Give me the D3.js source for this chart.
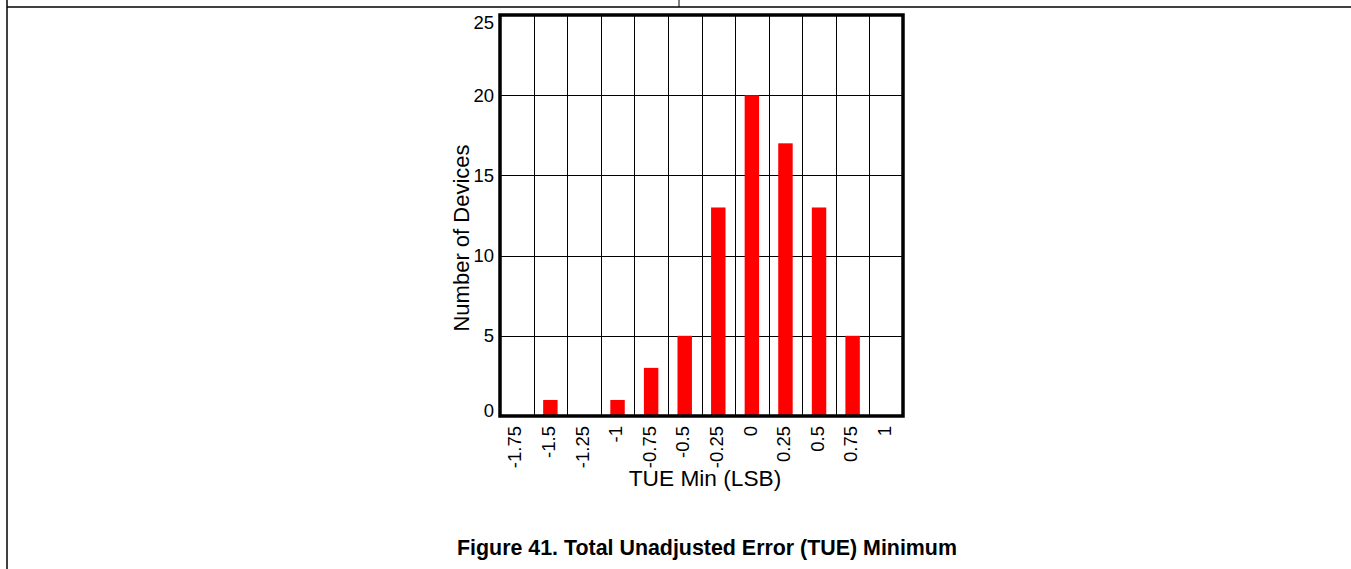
<!DOCTYPE html>
<html>
<head>
<meta charset="utf-8">
<script src="https://cdn.jsdelivr.net/npm/d3@7"></script>
<style>
  body { margin: 0; background: #fff; }
  svg { display: block; font-family: Arial, "Liberation Sans", sans-serif; }
</style>
</head>
<body>
<div id="chart"></div>
<script>
// histogram bins (LSB) and device counts
const bins = ["-1.75", "-1.5", "-1.25", "-1", "-0.75", "-0.5", "-0.25", "0", "0.25", "0.5", "0.75", "1"];
const counts = [0, 1, 0, 1, 3, 5, 13, 20, 17, 13, 5, 0];
const yTicks = [0, 5, 10, 15, 20, 25];

const width = 1351, height = 569;
const plot = {left: 500, right: 903, top: 15, bottom: 416};

const svg = d3.select("#chart").append("svg")
  .attr("width", width)
  .attr("height", height);

// page frame lines
svg.append("line").attr("x1", 7).attr("x2", width).attr("y1", 7).attr("y2", 7)
  .attr("stroke", "#000").attr("stroke-width", 1.5);
svg.append("line").attr("x1", 7).attr("x2", 7).attr("y1", 0).attr("y2", height)
  .attr("stroke", "#000").attr("stroke-width", 1.5);
svg.append("line").attr("x1", 679).attr("x2", 679).attr("y1", 0).attr("y2", 7)
  .attr("stroke", "#000").attr("stroke-width", 1);

const x = d3.scaleBand()
  .domain(bins)
  .range([plot.left, plot.right])
  .paddingInner(0)
  .paddingOuter(0);

const y = d3.scaleLinear()
  .domain([0, 25])
  .range([plot.bottom, plot.top]);

// grid
const grid = svg.append("g").attr("stroke", "#000").attr("stroke-width", 1);
grid.selectAll("line.v")
  .data(bins.slice(1))
  .join("line")
  .attr("class", "v")
  .attr("x1", d => Math.round(x(d)) + 0.5)
  .attr("x2", d => Math.round(x(d)) + 0.5)
  .attr("y1", plot.top)
  .attr("y2", plot.bottom);
grid.selectAll("line.h")
  .data(yTicks.slice(1, -1))
  .join("line")
  .attr("class", "h")
  .attr("x1", plot.left)
  .attr("x2", plot.right)
  .attr("y1", d => Math.round(y(d)) + 0.5)
  .attr("y2", d => Math.round(y(d)) + 0.5);

// bars
const barW = x.bandwidth() * 0.43;
svg.append("g").selectAll("rect")
  .data(bins.map((b, i) => ({bin: b, v: counts[i]})))
  .join("rect")
  .attr("x", d => x(d.bin) + x.bandwidth() / 2 - barW / 2)
  .attr("y", d => y(d.v))
  .attr("width", barW)
  .attr("height", d => y(0) - y(d.v))
  .attr("fill", "#ff0000");

// frame
svg.append("rect")
  .attr("x", plot.left).attr("y", plot.top)
  .attr("width", plot.right - plot.left)
  .attr("height", plot.bottom - plot.top)
  .attr("fill", "none")
  .attr("stroke", "#000")
  .attr("stroke-width", 3.5);

// y tick labels (end labels nudged inside like the original)
svg.append("g").selectAll("text")
  .data(yTicks)
  .join("text")
  .attr("x", plot.left - 6)
  .attr("y", d => Math.min(Math.max(y(d), 22), 410))
  .attr("dy", "0.36em")
  .attr("text-anchor", "end")
  .attr("font-size", 18.5)
  .text(d => d);

// x tick labels (rotated)
svg.append("g").selectAll("text")
  .data(bins)
  .join("text")
  .attr("transform", d => `translate(${x(d) + x.bandwidth() / 2 - 2},${plot.bottom + 10}) rotate(-90)`)
  .attr("dy", "0.36em")
  .attr("text-anchor", "end")
  .attr("font-size", 18.5)
  .text(d => d);

// axis titles
svg.append("text")
  .attr("x", 705)
  .attr("y", 486)
  .attr("text-anchor", "middle")
  .attr("font-size", 22.7)
  .text("TUE Min (LSB)");

svg.append("text")
  .attr("transform", "translate(469,238) rotate(-90)")
  .attr("text-anchor", "middle")
  .attr("font-size", 22)
  .text("Number of Devices");

// caption
svg.append("text")
  .attr("x", 707)
  .attr("y", 555)
  .attr("text-anchor", "middle")
  .attr("font-size", 21.4)
  .attr("font-weight", "bold")
  .text("Figure 41. Total Unadjusted Error (TUE) Minimum");
</script>
</body>
</html>
